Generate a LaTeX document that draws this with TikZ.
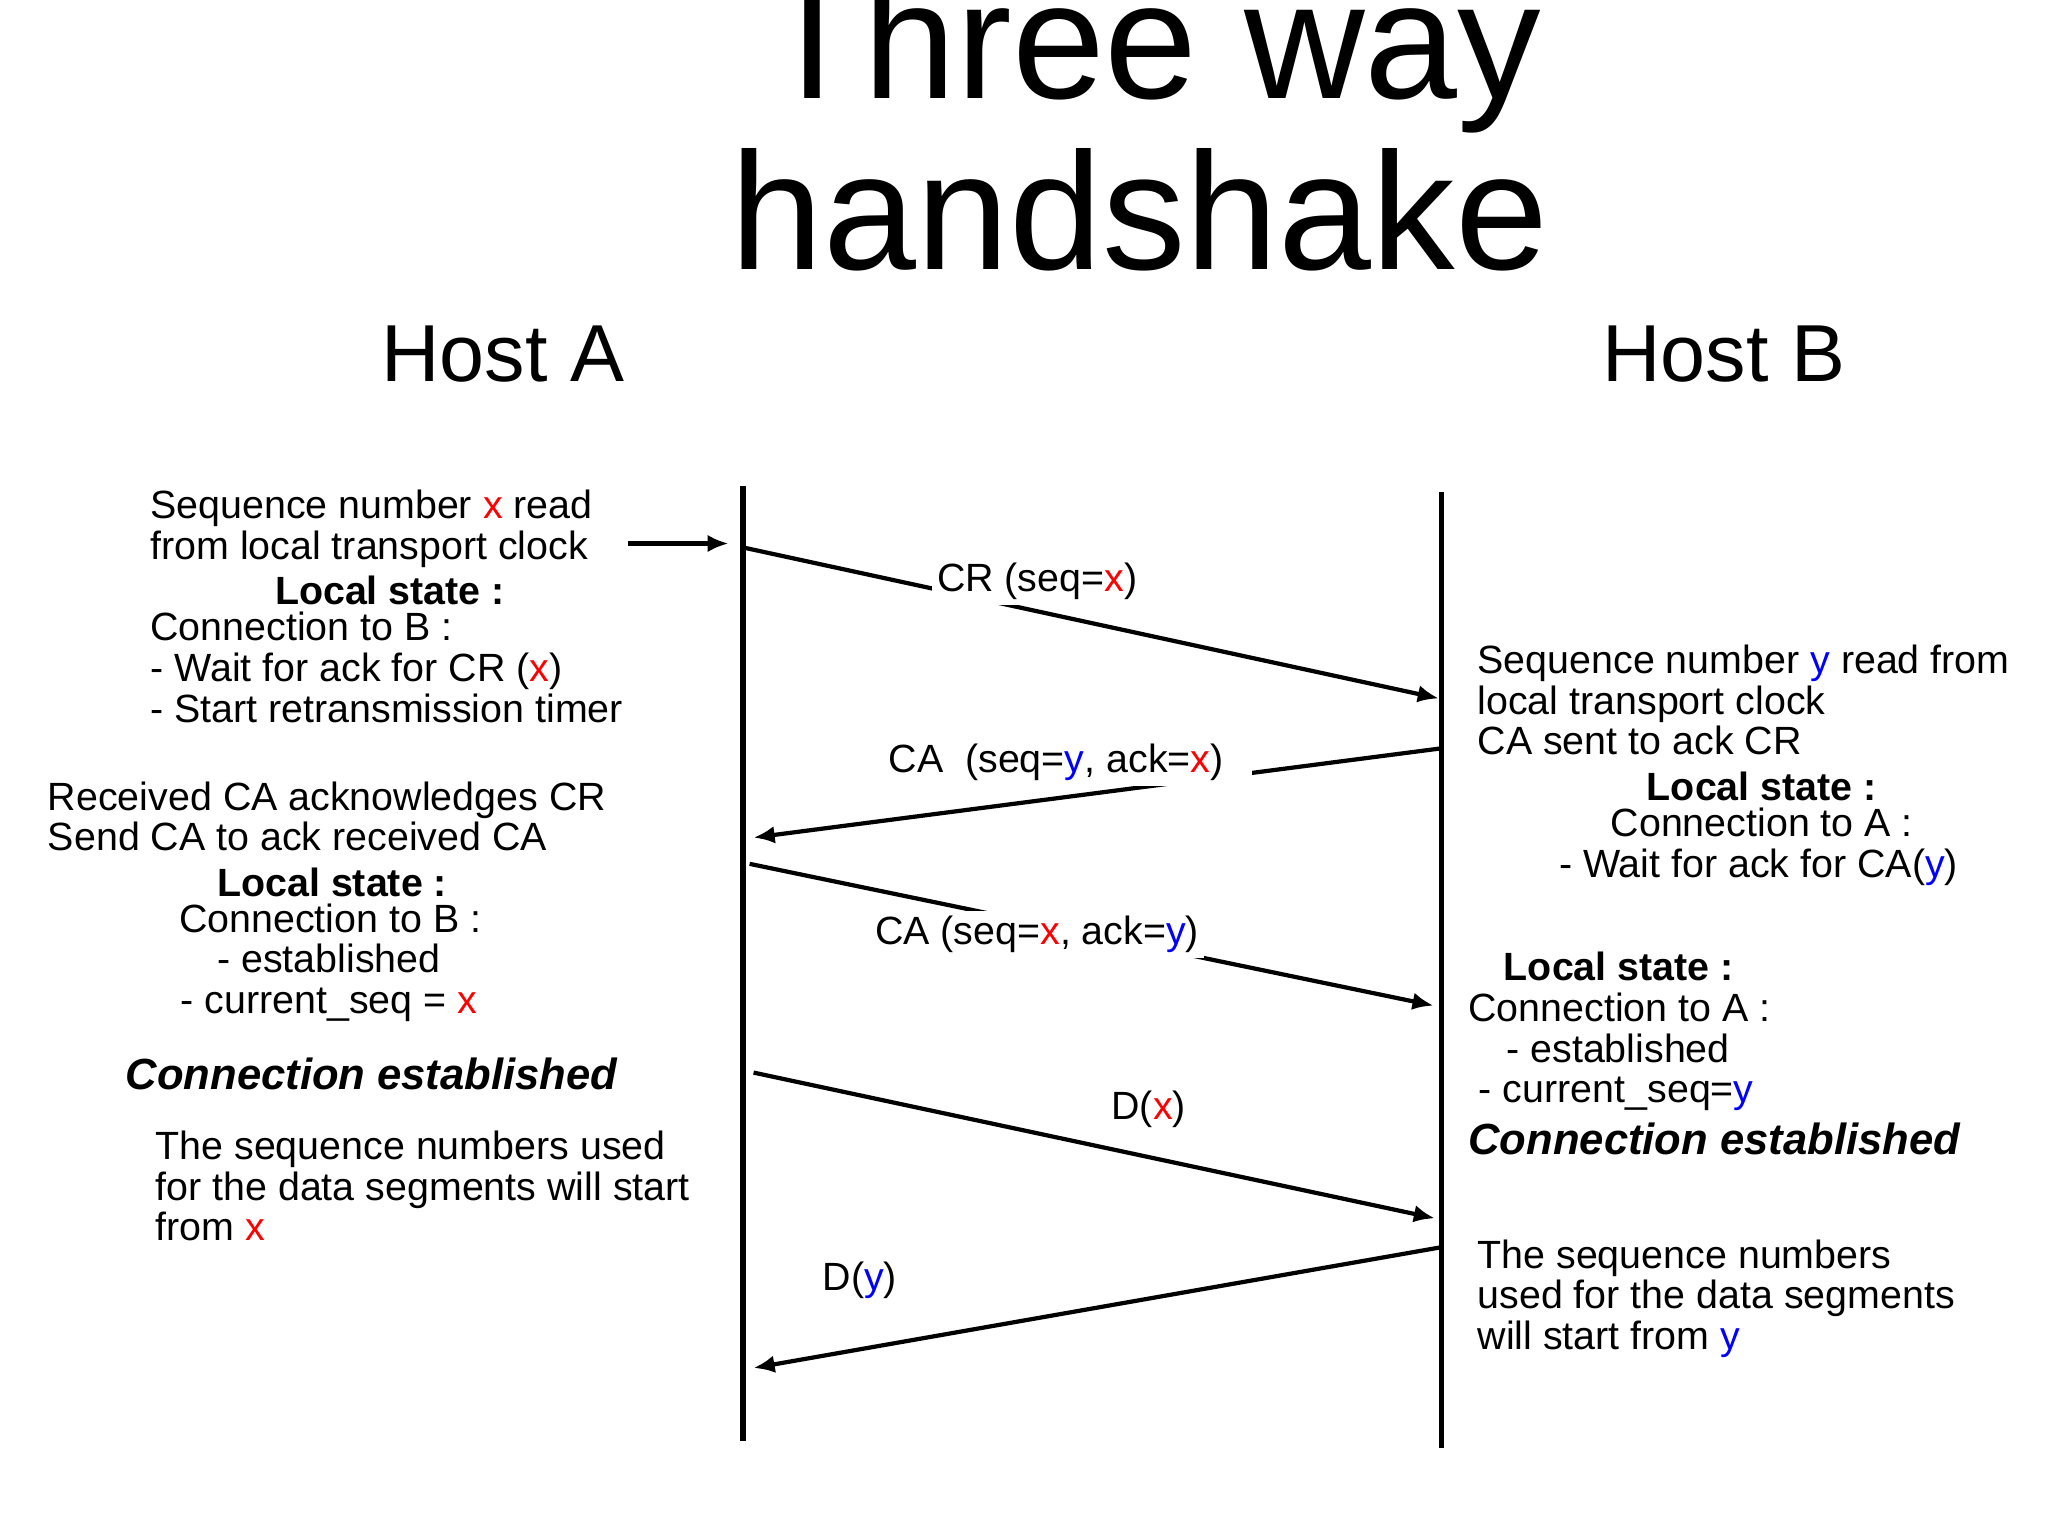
\documentclass[tikz,border=0pt]{standalone}
\usepackage{fontspec}
\setmainfont{Liberation Sans}
\usetikzlibrary{arrows.meta}
\newcommand{\RX}{\textcolor{red}{x}}
\newcommand{\BY}{\textcolor{blue}{y}}
\begin{document}
\begin{tikzpicture}[x=0.013128cm,y=-0.013128cm,
  txt/.style={font=\fontsize{11.2}{13}\selectfont,inner sep=0pt},
  lw/.style={txt,anchor=mid west},
  lc/.style={txt,anchor=mid},
  bld/.style={font=\fontsize{11.2}{13}\selectfont\bfseries,inner sep=0pt},
  ce/.style={font=\fontsize{12.4}{14}\selectfont\bfseries\itshape,inner sep=0pt},
  life/.style={line width=1.6pt},
  msg/.style={line width=1.2pt,-{Latex[length=6pt,width=5pt]}},
  lab/.style={txt,fill=white,inner sep=1.5pt}]
\useasboundingbox (0,0) rectangle (1560,1170);
\clip (0,0) rectangle (1560,1170);
\node[font=\fontsize{47.5}{50}\selectfont,anchor=base,inner sep=0pt] (t1) at (877,75) {Three way};
\node[font=\fontsize{47.5}{50}\selectfont,anchor=base,inner sep=0pt] (t2) at (868,205) {handshake};
\node[font=\fontsize{23}{25}\selectfont,inner sep=0pt] (ha) at (383,270) {Host A};
\node[font=\fontsize{23}{25}\selectfont,inner sep=0pt] (hb) at (1313,270) {Host B};
% lifelines
\coordinate (a0) at (566,370); \coordinate (a1) at (566,1098);
\coordinate (b0) at (1098,375); \coordinate (b1) at (1098,1103);
\draw[life] (a0) -- (a1);
\draw[life] (b0) -- (b1);
% left block 1
\node[lw] (l1) at (114,388) {Sequence number \RX{} read};
\node[lw] (l2) at (114,419) {from local transport clock};
\node[bld] (l3) at (297,450) {Local state :};
\node[lw] (l4) at (114,481) {Connection to B :};
\node[lw] (l5) at (114,512) {- Wait for ack for CR (\RX)};
\node[lw] (l6) at (114,543) {- Start retransmission timer};
\coordinate (s0) at (478,414); \coordinate (s1) at (555,414);
\draw[msg] (s0) -- (s1);
% left block 2
\node[lw] (m1) at (36,610) {Received CA acknowledges CR};
\node[lw] (m2) at (36,641) {Send CA to ack received CA};
\node[bld] (m3) at (253,672) {Local state :};
\node[lw] (m4) at (136,703) {Connection to B :};
\node[lw] (m5) at (165,734) {- established};
\node[lw] (m6) at (137,765) {- current\_seq = \RX};
\node[ce] (m7) at (283,818) {Connection established};
\node[lw] (n1) at (118,876) {The sequence numbers used};
\node[lw] (n2) at (118,907) {for the data segments will start};
\node[lw] (n3) at (118,938) {from \RX};
% right block 1
\node[lw] (r1) at (1125,506) {Sequence number \BY{} read from};
\node[lw] (r2) at (1125,537) {local transport clock};
\node[lw] (r3) at (1125,568) {CA sent to ack CR};
\node[bld] (r4) at (1342,599) {Local state :};
\node[lc] (r5) at (1342,630) {Connection to A :};
\node[lw] (r6) at (1187,661) {- Wait for ack for CA(\BY)};
% right block 2
\node[bld,anchor=mid west] (q1) at (1145,740) {Local state :};
\node[lw] (q2) at (1118,771) {Connection to A :};
\node[lw] (q3) at (1147,802) {- established};
\node[lw] (q4) at (1126,833) {- current\_seq=\BY};
\node[ce,anchor=mid west] (q5) at (1118,872) {Connection established};
\node[lw] (p1) at (1125,959) {The sequence numbers};
\node[lw] (p2) at (1125,990) {used for the data segments};
\node[lw] (p3) at (1125,1021) {will start from \BY};
% messages
\coordinate (c1s) at (566,417); \coordinate (c1e) at (1096,532);
\draw[msg] (c1s) -- (c1e);
\node[lab] (c1l) at (790,443) {CR (seq=\RX)};
\coordinate (c2s) at (1098,570); \coordinate (c2e) at (574,638);
\draw[msg] (c2s) -- (c2e);
\node[lab,inner xsep=8pt,anchor=west] (c2l) at (655,581) {CA\ \ (seq=\BY, ack=\RX)};
\coordinate (c3s) at (571,658); \coordinate (c3e) at (1092,766);
\draw[msg] (c3s) -- (c3e);
\node[lab] (c3l) at (790,712) {CA (seq=\RX, ack=\BY)};
\coordinate (c4s) at (574,817); \coordinate (c4e) at (1093,928);
\draw[msg] (c4s) -- (c4e);
\node[txt] (c4l) at (875,845) {D(\RX)};
\coordinate (c5s) at (1098,950); \coordinate (c5e) at (574,1042);
\draw[msg] (c5s) -- (c5e);
\node[txt] (c5l) at (655,975) {D(\BY)};
\end{tikzpicture}
\end{document}
